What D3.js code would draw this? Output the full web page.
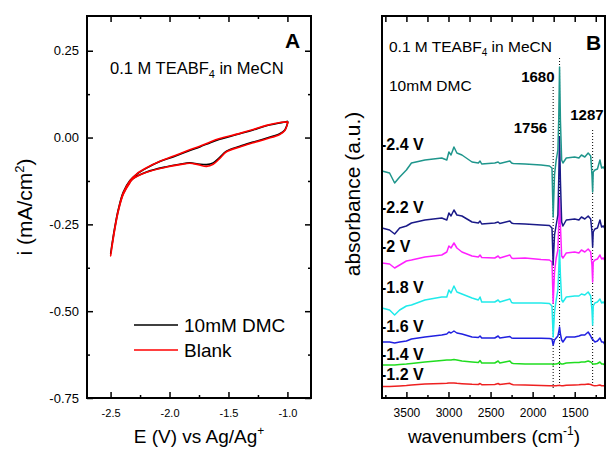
<!DOCTYPE html>
<html>
<head>
<meta charset="utf-8">
<script src="https://cdn.jsdelivr.net/npm/d3@7"></script>
<style>
body { margin: 0; background: #fff; }
text { font-family: "Liberation Sans", Arial, Helvetica, sans-serif; fill: #000; }
</style>
</head>
<body>
<svg width="606" height="450"></svg>
<script>
let width = 606,
    height = 450;

let svg = d3.select("svg")
    .attr("viewBox", "0 0 " + width + " " + height);

// ---- panel A: cyclic voltammograms (E in V, i in mA/cm2)
const cvE_dmc = [-0.995, -1.022, -1.065, -1.18, -1.29, -1.404, -1.517, -1.574, -1.63, -1.686, -1.757, -1.828, -1.913, -2.025, -2.195, -2.31, -2.336, -2.393, -2.435, -2.463, -2.486, -2.5,
                 -2.486, -2.463, -2.435, -2.393, -2.336, -2.28, -2.195, -2.082, -1.97, -1.85, -1.743, -1.65, -1.574, -1.404, -1.29, -1.178, -1.05, -0.995];
const cvI_dmc = [0.047, 0.022, 0.011, -0.002, -0.013, -0.025, -0.039, -0.057, -0.073, -0.078, -0.076, -0.073, -0.077, -0.084, -0.099, -0.118, -0.128, -0.162, -0.21, -0.258, -0.305, -0.335,
                 -0.303, -0.256, -0.208, -0.158, -0.124, -0.106, -0.088, -0.069, -0.056, -0.040, -0.027, -0.014, -0.005, 0.011, 0.022, 0.034, 0.043, 0.047];
const cvE_blank = [-0.995, -1.022, -1.065, -1.18, -1.29, -1.404, -1.517, -1.574, -1.63, -1.686, -1.757, -1.828, -1.913, -2.025, -2.195, -2.31, -2.336, -2.393, -2.435, -2.463, -2.486, -2.5,
                   -2.486, -2.463, -2.435, -2.393, -2.336, -2.28, -2.195, -2.082, -1.97, -1.85, -1.743, -1.65, -1.574, -1.404, -1.29, -1.178, -1.05, -0.995];
const cvI_blank = [0.045, 0.020, 0.009, -0.004, -0.015, -0.027, -0.041, -0.060, -0.077, -0.083, -0.078, -0.074, -0.078, -0.085, -0.100, -0.119, -0.130, -0.164, -0.213, -0.262, -0.31, -0.342,
                   -0.306, -0.258, -0.21, -0.160, -0.125, -0.105, -0.087, -0.068, -0.054, -0.038, -0.025, -0.012, -0.003, 0.012, 0.023, 0.035, 0.044, 0.045];
const cvNames = ["10mM DMC", "Blank"];
const cvColors = ["#000000", "#ff0000"];
const cvTicksX = [-2.5, -2.0, -1.5, -1.0];
const cvMinorX = [-2.25, -1.75, -1.25];
const cvTicksY = [0.25, 0.0, -0.25, -0.5, -0.75];
const cvMinorY = [0.125, -0.125, -0.375, -0.625];

// ---- panel B: IR spectra, absorbance in arbitrary units, stacked
const wavenumbers = [3790, 3700, 3640, 3580, 3500, 3440, 3280, 3080, 3020, 2995, 2970, 2935, 2900, 2840, 2720, 2645, 2625, 2605, 2450, 2410, 2390, 2270, 2250, 2230, 2090, 1900, 1800, 1770, 1756, 1740, 1720, 1700, 1690, 1680, 1670, 1655, 1640, 1600, 1500, 1450, 1420, 1380, 1340, 1310, 1295, 1287, 1280, 1260, 1230, 1200, 1180, 1160, 1140];
const abs_m24 = [227, 225, 215, 221, 228, 235, 238, 240, 238, 246, 243, 251, 245, 243, 236, 235, 237, 234, 235, 236, 234.5, 237, 235, 234.5, 234, 233, 232, 230, 181, 223, 238, 248, 278, 331, 278, 238, 235, 240, 241, 240, 243, 241, 245, 242, 223, 206, 226, 228, 229, 238, 230, 231, 228];
const abs_m22 = [170, 168, 164, 170, 172, 175, 178, 180, 178, 185, 182, 188, 183, 182, 176, 175, 177, 174, 175, 176, 174.5, 177, 175, 174.5, 174, 173, 172.5, 170, 133, 163, 173, 183, 218, 261, 218, 176, 172, 178, 179, 178, 181, 179, 182, 179, 166, 151, 166, 169, 170, 178, 171, 172, 169];
const abs_m20 = [135, 134, 130, 133, 137, 138, 141, 143, 146, 152, 150, 155, 150, 146, 142, 141, 143, 140.5, 140, 142, 140, 143, 140, 139.5, 140, 138.5, 138, 136, 95, 126, 140, 148, 173, 200, 173, 142, 140, 145, 146, 145, 148, 146, 149, 146, 133, 116, 136, 138, 139, 143, 139, 140, 137];
const abs_m18 = [90, 88, 83, 88, 92, 93, 98, 101, 101, 108, 105, 112, 106, 104, 100, 98, 101, 96, 96, 98, 96, 99, 95.5, 95, 95, 95, 94.5, 92, 61, 86, 98, 108, 128, 148, 123, 98, 96, 101, 102, 102, 104, 103, 106, 102, 88, 73, 92, 95, 96, 99, 95, 96, 94];
const abs_m16 = [56, 56, 55, 56, 57, 59, 61, 63, 64, 66, 65, 67, 65, 64, 61, 60.5, 62, 60, 60, 62, 60, 61.5, 60, 59.7, 59.7, 59.7, 59.5, 59, 53, 58, 60, 62, 66, 71, 64, 58, 56, 61, 61, 62, 63, 63, 66, 62, 59, 59, 58, 56, 57, 60, 56, 56, 53];
const abs_m14 = [33, 33, 33, 33.5, 34, 34.5, 36, 37.5, 38, 38, 38, 38.5, 38, 37, 36, 35.5, 37.5, 35, 35, 37, 35, 37, 35, 34.5, 34, 34, 34, 34, 33, 34, 34, 34.5, 35, 35.5, 34.5, 34, 34, 35, 35.5, 35.5, 36, 36, 37, 36, 35, 34, 34, 34, 34.5, 36, 34, 34, 33];
const abs_m12 = [11.5, 11.5, 11.7, 12, 12.5, 13, 14, 14.5, 14.7, 15, 15, 15, 14.7, 14.3, 13.7, 13.5, 14.5, 13.3, 13.5, 14.5, 13.5, 14.7, 13.7, 13.3, 13, 12.5, 12.3, 12.3, 12, 12.3, 12.3, 12.5, 12.5, 12.7, 12.5, 12.3, 12.3, 12.7, 13, 13.2, 13.5, 13.5, 14, 13.5, 13, 12.8, 12.5, 12.3, 12.5, 13, 12.3, 12.3, 12];
const potentials = ["-1.2 V", "-1.4 V", "-1.6 V", "-1.8 V", "-2 V", "-2.2 V", "-2.4 V"];
const potentialLabelAt = [18, 38, 66, 105, 146, 185, 248];
const specColors = ["#ee2020", "#20dd20", "#2020e0", "#20eaea", "#ff20ff", "#1a1a88", "#1f968c"];
const peakWn = [1756, 1680, 1287];
const wnTicks = [3500, 3000, 2500, 2000, 1500];
const wnMinor = [3750, 3250, 2750, 2250, 1750, 1250];

const spectra = [abs_m12, abs_m14, abs_m16, abs_m18, abs_m20, abs_m22, abs_m24];

// ================= panel A =================
let xA = d3.scaleLinear().domain([-2.7, -0.8]).range([87, 311]);
let yA = d3.scaleLinear().domain([-0.75, 0.35]).range([398, 16]);

let gA = svg.append("g");

function styleAxis(g) {
    g.select(".domain").remove();
    g.selectAll(".tick line").attr("stroke", "#000").attr("stroke-width", 1.5);
}

gA.append("g").attr("transform", "translate(0,398)")
    .call(d3.axisBottom(xA).tickValues(cvTicksX).tickSize(-6).tickPadding(11).tickFormat(d => d.toFixed(1)))
    .call(styleAxis)
    .selectAll("text").style("font-size", "11px");
gA.append("g").attr("transform", "translate(0,398)")
    .call(d3.axisBottom(xA).tickValues(cvMinorX).tickSize(-3).tickFormat(""))
    .call(styleAxis);
gA.append("g").attr("transform", "translate(0,16)")
    .call(d3.axisTop(xA).tickValues(cvTicksX).tickSize(-6).tickFormat(""))
    .call(styleAxis);
gA.append("g").attr("transform", "translate(0,16)")
    .call(d3.axisTop(xA).tickValues(cvMinorX).tickSize(-3).tickFormat(""))
    .call(styleAxis);
gA.append("g").attr("transform", "translate(87,0)")
    .call(d3.axisLeft(yA).tickValues(cvTicksY).tickSize(-6).tickPadding(8).tickFormat(d => d.toFixed(2)))
    .call(styleAxis)
    .selectAll("text").style("font-size", "13px");
gA.append("g").attr("transform", "translate(87,0)")
    .call(d3.axisLeft(yA).tickValues(cvMinorY).tickSize(-3).tickFormat(""))
    .call(styleAxis);
gA.append("g").attr("transform", "translate(311,0)")
    .call(d3.axisRight(yA).tickValues(cvTicksY).tickSize(-6).tickFormat(""))
    .call(styleAxis);
gA.append("g").attr("transform", "translate(311,0)")
    .call(d3.axisRight(yA).tickValues(cvMinorY).tickSize(-3).tickFormat(""))
    .call(styleAxis);

let cvLine = d3.line()
    .x(d => xA(d[0]))
    .y(d => yA(d[1]))
    .curve(d3.curveCatmullRom);

let cvData = [d3.zip(cvE_dmc, cvI_dmc), d3.zip(cvE_blank, cvI_blank)];

gA.selectAll(".cv")
    .data(cvData)
    .enter()
    .append("path")
    .attr("class", "cv")
    .attr("d", cvLine)
    .attr("fill", "none")
    .attr("stroke", (d, i) => cvColors[i])
    .attr("stroke-width", 1.6);

gA.append("rect")
    .attr("x", 87).attr("y", 16).attr("width", 224).attr("height", 382)
    .attr("fill", "none").attr("stroke", "#000").attr("stroke-width", 2);

// legend
let legA = gA.append("g").attr("transform", "translate(134,325)");
cvNames.forEach((name, i) => {
    legA.append("line")
        .attr("x1", 0).attr("x2", 44)
        .attr("y1", i * 25).attr("y2", i * 25)
        .attr("stroke", cvColors[i]).attr("stroke-width", 1.6);
    legA.append("text")
        .attr("x", 50).attr("y", i * 25 + 7)
        .style("font-size", "19px")
        .text(name);
});

let noteA = gA.append("text").attr("x", 110).attr("y", 74).style("font-size", "16.5px");
noteA.append("tspan").text("0.1 M TEABF");
noteA.append("tspan").attr("dy", 4).style("font-size", "11px").text("4");
noteA.append("tspan").attr("dy", -4).text(" in MeCN");

gA.append("text").attr("x", 285).attr("y", 48)
    .style("font-size", "21px").style("font-weight", "bold").text("A");

let xlabA = gA.append("text").attr("x", 199).attr("y", 443)
    .attr("text-anchor", "middle").style("font-size", "19px");
xlabA.append("tspan").text("E (V) vs Ag/Ag");
xlabA.append("tspan").attr("dy", -8).style("font-size", "12px").text("+");

let ylabA = gA.append("text")
    .attr("transform", "translate(32,207) rotate(-90)")
    .attr("text-anchor", "middle").style("font-size", "21px");
ylabA.append("tspan").text("i (mA/cm");
ylabA.append("tspan").attr("dy", -8).style("font-size", "13px").text("2");
ylabA.append("tspan").attr("dy", 8).text(")");

// ================= panel B =================
let xB = d3.scaleLinear().domain([3790, 1140]).range([382, 605]);
let yB = d3.scaleLinear().domain([0, 382]).range([398, 16]);

let gB = svg.append("g");

gB.append("g").attr("transform", "translate(0,398)")
    .call(d3.axisBottom(xB).tickValues(wnTicks).tickSize(-6).tickPadding(10).tickFormat(d3.format("d")))
    .call(styleAxis)
    .selectAll("text").style("font-size", "12px");
gB.append("g").attr("transform", "translate(0,398)")
    .call(d3.axisBottom(xB).tickValues(wnMinor).tickSize(-3).tickFormat(""))
    .call(styleAxis);
gB.append("g").attr("transform", "translate(0,16)")
    .call(d3.axisTop(xB).tickValues(wnTicks.concat(wnMinor)).tickSize(-6).tickFormat(""))
    .call(styleAxis);

// dotted guide lines at the band positions
const guideTop = [311, 340, 268];
gB.selectAll(".guide")
    .data(peakWn)
    .enter()
    .append("line")
    .attr("class", "guide")
    .attr("x1", d => xB(d)).attr("x2", d => xB(d))
    .attr("y1", (d, i) => yB(guideTop[i])).attr("y2", yB(10))
    .attr("stroke", "#000").attr("stroke-width", 1)
    .attr("stroke-dasharray", "1,2");

let specLine = d3.line()
    .x((d, i) => xB(wavenumbers[i]))
    .y(d => yB(d));

gB.selectAll(".spec")
    .data(spectra)
    .enter()
    .append("path")
    .attr("class", "spec")
    .attr("d", specLine)
    .attr("fill", "none")
    .attr("stroke", (d, i) => specColors[i])
    .attr("stroke-width", 1.5)
    .attr("stroke-linejoin", "round");

gB.selectAll(".pot")
    .data(potentials)
    .enter()
    .append("text")
    .attr("class", "pot")
    .attr("x", 381)
    .attr("y", (d, i) => yB(potentialLabelAt[i]))
    .style("font-size", "16px").style("font-weight", "bold")
    .text(d => d);

// band labels
const bandLabelAt = [265, 316, 278];
const bandDx = [-6, -5, 11];
gB.selectAll(".band")
    .data(peakWn)
    .enter()
    .append("text")
    .attr("class", "band")
    .attr("x", (d, i) => xB(d) + bandDx[i])
    .attr("y", (d, i) => yB(bandLabelAt[i]))
    .attr("text-anchor", "end")
    .style("font-size", "15px").style("font-weight", "bold")
    .text(d => d);

gB.append("rect")
    .attr("x", 382).attr("y", 16).attr("width", 223).attr("height", 382)
    .attr("fill", "none").attr("stroke", "#000").attr("stroke-width", 2);

let noteB = gB.append("text").attr("x", 389).attr("y", 52).style("font-size", "15.5px");
noteB.append("tspan").text("0.1 M TEABF");
noteB.append("tspan").attr("dy", 4).style("font-size", "10px").text("4");
noteB.append("tspan").attr("dy", -4).text(" in MeCN");
gB.append("text").attr("x", 389).attr("y", 91).style("font-size", "15.5px").text("10mM DMC");

gB.append("text").attr("x", 586).attr("y", 50)
    .style("font-size", "21px").style("font-weight", "bold").text("B");

let xlabB = gB.append("text").attr("x", 494).attr("y", 443)
    .attr("text-anchor", "middle").style("font-size", "19px");
xlabB.append("tspan").text("wavenumbers (cm");
xlabB.append("tspan").attr("dy", -8).style("font-size", "12px").text("-1");
xlabB.append("tspan").attr("dy", 8).text(")");

gB.append("text")
    .attr("transform", "translate(360,194) rotate(-90)")
    .attr("text-anchor", "middle").style("font-size", "21px")
    .text("absorbance (a.u.)");
</script>
</body>
</html>
